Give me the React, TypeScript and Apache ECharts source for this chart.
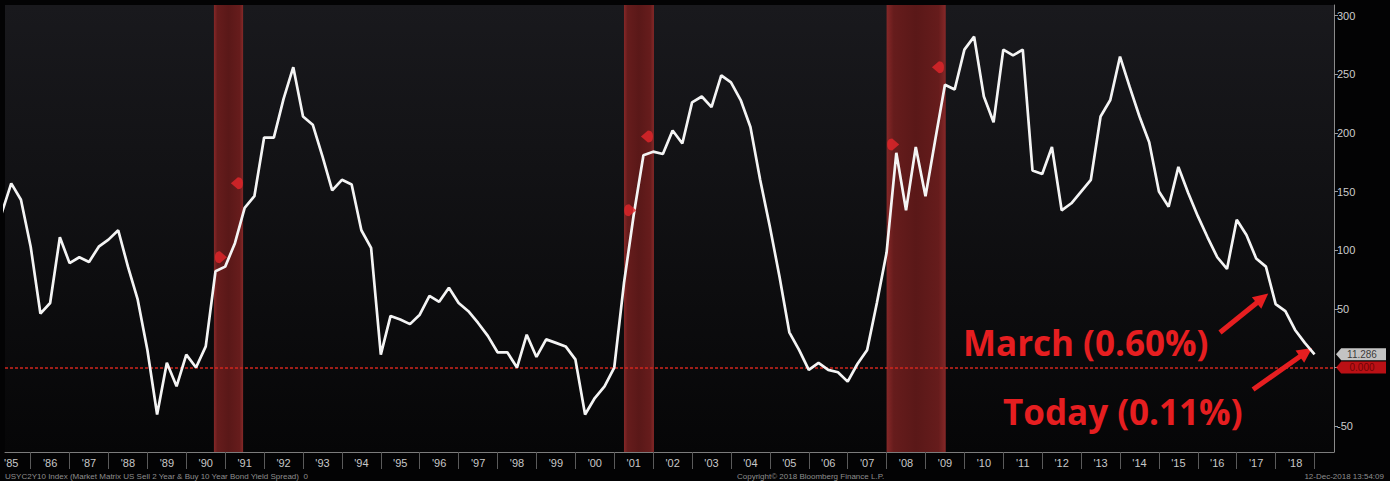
import React, { useEffect, useRef } from 'react';
import * as echarts from 'echarts';

// US 2y/10y Treasury yield spread (bp), quarterly from 1985.25
const startYear = 1985.25;
const spreadBp = [
  131, 157, 143, 103, 46, 55, 111, 89, 94, 90, 103, 109, 117, 86, 58, 15,
  -40, 4, -16, 11, 0, 18, 82, 86, 106, 136, 146, 196, 196, 229, 256, 214,
  207, 180, 151, 160, 156, 117, 102, 11, 44, 41, 37, 45, 61, 56, 68, 55,
  48, 38, 27, 13, 13, 0, 28, 9, 24, 21, 18, 7, -40, -26, -16, 0,
  72, 130, 181, 184, 182, 202, 191, 226, 231, 222, 249, 243, 228, 205, 160, 120,
  77, 30, 15, -2, 4, -2, -4, -12, 3, 15, 55, 98, 183, 134, 188, 146,
  194, 241, 237, 271, 282, 231, 209, 271, 266, 271, 168, 165, 188, 134, 140, 150,
  160, 214, 228, 265, 239, 214, 192, 150, 137, 171, 149, 129, 111, 94, 84, 126,
  113, 93, 86, 54, 48, 32, 21, 11.286,
];

const yearLabels = [
  "'85", "'86", "'87", "'88", "'89", "'90", "'91", "'92", "'93", "'94", "'95", "'96",
  "'97", "'98", "'99", "'00", "'01", "'02", "'03", "'04", "'05", "'06", "'07", "'08",
  "'09", "'10", "'11", "'12", "'13", "'14", "'15", "'16", "'17", "'18",
];
const yearBoundaries = [
  1986, 1987, 1988, 1989, 1990, 1991, 1992, 1993, 1994, 1995, 1996, 1997, 1998, 1999,
  2000, 2001, 2002, 2003, 2004, 2005, 2006, 2007, 2008, 2009, 2010, 2011, 2012, 2013,
  2014, 2015, 2016, 2017, 2018, 2019,
];
const yearCenters = [
  1985.5, 1986.5, 1987.5, 1988.5, 1989.5, 1990.5, 1991.5, 1992.5, 1993.5, 1994.5, 1995.5,
  1996.5, 1997.5, 1998.5, 1999.5, 2000.5, 2001.5, 2002.5, 2003.5, 2004.5, 2005.5, 2006.5,
  2007.5, 2008.5, 2009.5, 2010.5, 2011.5, 2012.5, 2013.5, 2014.5, 2015.5, 2016.5, 2017.5,
  2018.5,
];
const yTickValues = [-50, 0, 50, 100, 150, 200, 250, 300];
const yLabelValues = [-50, 50, 100, 150, 200, 250, 300];

const recessions = [
  [1990.71, 1991.46],
  [2001.25, 2002.02],
  [2008.0, 2009.52],
];
const recessionStartMarks = [
  [1990.89, 94],
  [2001.41, 134],
  [2008.17, 190],
];
const recessionEndMarks = [
  [1991.3, 157],
  [2001.84, 197],
  [2009.32, 256],
];

const xMin = 1985.34;
const xMax = 2019.5;
const yMin = -72;
const yMax = 309;

const lastValue = 11.286;
const lastLabel = '11.286';
const zeroLabel = '0.000';

const marchArrow = [
  [2016.57, 29.8],
  [2017.66, 59.0],
];
const todayArrow = [
  [2017.42, -18.7],
  [2018.78, 13.0],
];

const RED = '#e61e20';

export default function App() {
  const ref = useRef<HTMLDivElement>(null);

  useEffect(() => {
    if (!ref.current) return;
    const chart = echarts.init(ref.current, undefined, { renderer: 'svg' });

    const bandGradient = new echarts.graphic.LinearGradient(0, 0, 1, 0, [
      { offset: 0, color: '#862828' },
      { offset: 0.12, color: '#661c1c' },
      { offset: 0.5, color: '#5a1818' },
      { offset: 0.88, color: '#661c1c' },
      { offset: 1, color: '#862828' },
    ]);

    const option: any = {
      animation: false,
      backgroundColor: '#030304',
      grid: {
        left: 5,
        right: 56,
        top: 5,
        bottom: 29,
        show: true,
        borderWidth: 0,
        backgroundColor: new echarts.graphic.LinearGradient(0, 0, 0, 1, [
          { offset: 0, color: '#19191d' },
          { offset: 1, color: '#060607' },
        ]),
      },
      xAxis: {
        type: 'value',
        min: xMin,
        max: xMax,
        axisLine: { show: true, onZero: false, lineStyle: { color: '#7c7c7c', width: 1 } },
        axisTick: {
          show: true,
          customValues: yearBoundaries,
          length: 17,
          lineStyle: { color: '#5a5a5a' },
        },
        axisLabel: {
          show: true,
          customValues: yearCenters,
          formatter: (v: number) => yearLabels[Math.round(v - 1985.5)] ?? '',
          color: '#c8c8c8',
          fontSize: 11,
          fontFamily: 'Liberation Sans',
          margin: 5,
        },
        splitLine: { show: false },
      },
      yAxis: {
        type: 'value',
        position: 'right',
        min: yMin,
        max: yMax,
        axisLine: { show: true, onZero: false, lineStyle: { color: '#8a8a8a', width: 1 } },
        axisTick: {
          show: true,
          customValues: yTickValues,
          length: 4,
          lineStyle: { color: '#9a9a9a' },
        },
        axisLabel: {
          show: true,
          customValues: yLabelValues,
          color: '#cccccc',
          fontSize: 11,
          fontFamily: 'Liberation Sans',
          margin: 3,
        },
        splitLine: { show: false },
      },
      series: [
        {
          type: 'line',
          data: spreadBp.map((v, i) => [startYear + i * 0.25, v]),
          showSymbol: false,
          symbol: 'none',
          lineStyle: { color: '#f4f4f4', width: 2.7 },
          z: 5,
          markArea: {
            silent: true,
            itemStyle: { color: bandGradient },
            data: recessions.map(([a, b]) => [{ xAxis: a }, { xAxis: b }]),
          },
          markLine: {
            silent: true,
            symbol: ['none', 'none'],
            label: { show: false },
            lineStyle: { color: '#d0261f', width: 1.5, type: [3, 2], opacity: 1 },
            data: [{ yAxis: 0 }],
          },
        },
        {
          type: 'scatter',
          data: recessionStartMarks,
          symbol: 'path://M12,6 L5,0 C1,0 0,3 0,6 C0,9 1,12 5,12 Z',
          symbolSize: [12, 12],
          itemStyle: { color: '#e3262b' },
          z: 6,
          silent: true,
        },
        {
          type: 'scatter',
          data: recessionEndMarks,
          symbol: 'path://M0,6 L7,0 C11,0 12,3 12,6 C12,9 11,12 7,12 Z',
          symbolSize: [12, 12],
          itemStyle: { color: '#e3262b' },
          z: 6,
          silent: true,
        },
        {
          type: 'scatter',
          clip: false,
          silent: true,
          z: 7,
          symbol: 'path://M0,6 L5,0 L48,0 L48,12 L5,12 Z',
          symbolSize: [50, 12],
          symbolOffset: [27, 0],
          data: [
            {
              value: [xMax, 0],
              itemStyle: { color: '#e8141a' },
              label: {
                show: true,
                position: 'inside',
                formatter: zeroLabel,
                color: '#5a0000',
                fontSize: 10,
                fontFamily: 'Liberation Sans',
                offset: [1, 0],
              },
            },
            {
              value: [xMax, lastValue],
              itemStyle: { color: '#f4f4f4' },
              label: {
                show: true,
                position: 'inside',
                formatter: lastLabel,
                color: '#111',
                fontSize: 10,
                fontFamily: 'Liberation Sans',
                offset: [1, 0],
              },
            },
          ],
        },
        {
          type: 'line',
          data: [],
          silent: true,
          z: 8,
          markLine: {
            silent: true,
            symbol: ['none', 'triangle'],
            symbolSize: [15, 15],
            label: { show: false },
            lineStyle: { color: RED, width: 5, type: 'solid', opacity: 1 },
            data: [
              [{ coord: marchArrow[0] }, { coord: marchArrow[1] }],
              [{ coord: todayArrow[0] }, { coord: todayArrow[1] }],
            ],
          },
        },
      ],
      graphic: [
        {
          type: 'text',
          x: 963,
          y: 342,
          z: 20,
          style: {
            text: 'March (0.60%)',
            fill: RED,
            fontSize: 35,
            fontWeight: 'bold',
            fontFamily: 'Open Sans',
            verticalAlign: 'middle',
          },
        },
        {
          type: 'text',
          x: 1003,
          y: 411,
          z: 20,
          style: {
            text: 'Today (0.11%)',
            fill: RED,
            fontSize: 35,
            fontWeight: 'bold',
            fontFamily: 'Open Sans',
            verticalAlign: 'middle',
          },
        },
        {
          type: 'text',
          x: 5,
          y: 476,
          style: {
            text: 'USYC2Y10 Index (Market Matrix US Sell 2 Year & Buy 10 Year Bond Yield Spread)  0',
            fill: '#8e8e8e',
            fontSize: 8,
            fontFamily: 'Liberation Sans',
            verticalAlign: 'middle',
          },
        },
        {
          type: 'text',
          x: 737,
          y: 476,
          style: {
            text: 'Copyright© 2018 Bloomberg Finance L.P.',
            fill: '#8e8e8e',
            fontSize: 8,
            fontFamily: 'Liberation Sans',
            verticalAlign: 'middle',
          },
        },
        {
          type: 'text',
          x: 1384,
          y: 476,
          style: {
            text: '12-Dec-2018 13:54:09',
            fill: '#8e8e8e',
            fontSize: 8,
            fontFamily: 'Liberation Sans',
            align: 'right',
            verticalAlign: 'middle',
          },
        },
      ],
    };

    chart.setOption(option);
    return () => chart.dispose();
  }, []);

  return (
    <div
      ref={ref}
      style={{ position: 'fixed', left: 0, top: 0, width: 1390, height: 481 }}
    />
  );
}
